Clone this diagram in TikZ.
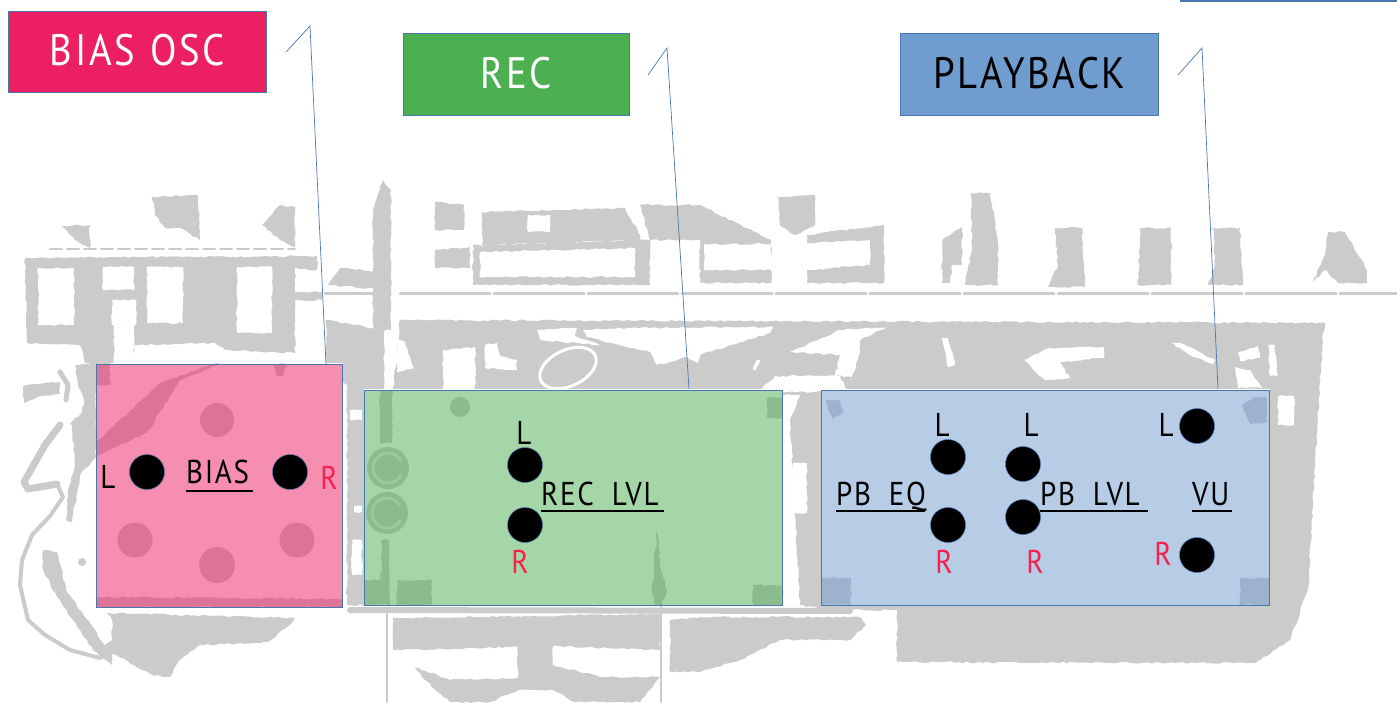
\documentclass[tikz,border=0pt]{standalone}
\usepackage{fontspec}
\setmainfont{PT Sans}
\newfontfamily\tfont[LetterSpace=6,FakeStretch=.88,WordSpace=1.2]{PT Sans}
\newfontfamily\cfont[LetterSpace=5,FakeStretch=.88,WordSpace=1.9]{PT Sans}
\newfontfamily\lfont[FakeStretch=.88]{PT Sans}
\usetikzlibrary{decorations.pathmorphing}
\definecolor{bg}{HTML}{CBCBCB}
\definecolor{edge}{HTML}{4A76B0}
\definecolor{cpink}{HTML}{EC1F63}
\definecolor{cgreen}{HTML}{4CAF50}
\definecolor{cblue}{HTML}{709DCF}
\definecolor{cred}{HTML}{F8204F}
\tikzset{
 gr/.style={fill=bg,draw=none,decorate,decoration={random steps,segment length=4,amplitude=.9}},
 wh/.style={fill=white,draw=none,decorate,decoration={random steps,segment length=4,amplitude=.9}},
 gl/.style={draw=bg,line cap=round,line join=round},
 title/.style={draw=edge,line width=.6pt,anchor=north west,inner sep=0pt,font=\tfont\fontsize{44}{44}\selectfont},
 panel/.style={draw=edge,line width=.7pt,anchor=north west,inner sep=0pt,fill opacity=.5},
 dot/.style={circle,fill=black,draw=edge,line width=.5pt,minimum size=35pt,inner sep=0pt},
 lab/.style={anchor=base,inner sep=0pt,font=\lfont\fontsize{33}{33}\selectfont},
 captxt/.style={anchor=base west,inner sep=0pt,font=\cfont\fontsize{33}{33}\selectfont},
 ul/.style={draw=black,line width=2.2pt},
 call/.style={draw=edge,line width=.7pt},
}
\begin{document}
\begin{tikzpicture}[x=1pt,y=-1pt]
\useasboundingbox (0,0) rectangle (1397,702);
% ---- faded photograph: upper row
\path[gr] (25,258)--(317,256)--(317,270)--(295,268)--(295,292)--(322,292)--(322,300)--(295,300)--(295,353)--(225,350)--(215,343)--(134,345)--(134,363)--(85,363)--(80,345)--(27,343)--cycle;
\path[wh] (38,268) rectangle (74,325);
\path[wh] (103,267) rectangle (134,290);
\path[wh] (112,300) rectangle (136,325);
\path[wh] (114,325) rectangle (134,365);
\path[wh] (147,267) rectangle (183,323);
\path[wh] (237,267) rectangle (272,333);
\path[gr] (152,197)--(198,195)--(200,240)--(180,228)--(165,228)--(155,215)--cycle;
\path[gr] (262,225)--(280,205)--(295,207)--(295,247)--(280,240)--cycle;
\path[gr] (62,226)--(90,225)--(90,248)--(75,240)--cycle;
\draw[gl,line width=2pt,dash pattern=on 12pt off 5pt] (50,249)--(295,249);
\path[gr] (373,210)--(383,180)--(391,190)--(391,330)--(373,330)--cycle;
\path[gr] (328,285)--(340,268)--(384,272)--(384,290)--cycle;
\path[gr] (435,202)--(464,205)--(464,230)--(435,230)--cycle;
\path[gr] (435,250)--(470,247)--(470,268)--(435,268)--cycle;
\path[gr] (482,212)--(625,208)--(640,235)--(640,240)--(482,245)--cycle;
\path[wh] (528,232)--(528,215)--(550,215)--(550,232)--cycle;
\path[gr] (473,245)--(650,240)--(650,285)--(473,285)--cycle;
\path[wh] (480,252)--(635,248)--(635,277)--(480,277)--cycle;
\path[gr] (640,205)--(700,205)--(771,240)--(771,283)--(700,283)--(700,240)--(650,240)--cycle;
\path[wh] (704,244) rectangle (771,270);
\path[gr] (778,197)--(815,195)--(815,225)--(795,235)--(780,225)--cycle;
\path[gr] (807,235)--(884,225)--(884,283)--(807,283)--(807,270)--(870,265)--(870,240)--(807,243)--cycle;
\path[gr] (942,240)--(962,227)--(962,265)--(952,265)--(950,283)--(942,283)--cycle;
\path[gr] (971,193)--(990,193)--(998,240)--(998,285)--(965,285)--(972,250)--cycle;
\path[gr] (1055,228)--(1082,228)--(1085,287)--(1048,287)--(1058,265)--cycle;
\path[gr] (1140,228)--(1171,228)--(1171,285)--(1138,285)--cycle;
\path[gr] (1213,228)--(1240,228)--(1243,285)--(1208,285)--(1215,265)--cycle;
\path[gr] (1313,282)--(1325,255)--(1328,232)--(1345,232)--(1367,270)--(1367,283)--(1338,283)--(1325,270)--cycle;
\draw[gl,line width=3pt,dash pattern=on 60pt off 3pt] (325,293)--(375,293);
\draw[gl,line width=3pt,dash pattern=on 90pt off 4pt] (400,293)--(1397,293);
% ---- faded photograph: middle mass
\path[gr] (400,320)--(1325,323)--(1322,345)--(1308,590)--(1290,640)--(1255,663)--(897,662)--(897,610)--(830,610)--(800,605)--(790,420)--(800,395)--(393,395)--cycle;
\path[gr] (326,320)--(384,330)--(384,605)--(347,605)--(347,385)--(326,375)--cycle;
\path[wh] (583,330)--(630,328)--(773,327)--(770,333)--(700,355)--(697,363)--(687,357)--(657,365)--(650,352)--(587,337)--cycle;
\path[wh] (443,350)--(475,347)--(475,392)--(443,392)--cycle;
\path[wh] (485,345)--(497,343)--(500,356)--(517,360)--(517,370)--(485,368)--cycle;
\path[wh] (397,340)--(405,342)--(414,368)--(397,372)--cycle;
\path[wh] (537,330)--(577,328)--(575,336)--(600,345)--(540,340)--cycle;
\draw[white,line width=3pt,rotate around={25:(568,368)}] (568,368) ellipse (30 and 18);
\path[wh] (790,352)--(840,330)--(887,327)--(860,340)--(860,352)--(852,377)--(835,375)--(840,355)--cycle;
\path[wh] (758,392)--(775,376)--(840,376)--(848,392)--cycle;
\path[wh] (1024,360)--(1050,348)--(1104,347)--(1104,358)--(1060,362)--(1070,378)--(1045,380)--cycle;
\path[wh] (1171,343)--(1180,343)--(1215,360)--(1213,364)--(1190,355)--cycle;
\path[wh] (1238,352)--(1258,346)--(1260,358)--(1240,361)--cycle;
\path[wh] (1235,367)--(1250,370)--(1262,388)--(1238,388)--cycle;
\path[wh] (1268,345)--(1275,345)--(1277,376)--(1270,376)--cycle;
\path[wh] (942,338)--(948,338)--(955,365)--(948,367)--cycle;
\path[wh] (757,360)--(760,360)--(756,370)--(753,370)--cycle;
\path[wh] (350,410)--(362,410)--(362,420)--(350,420)--cycle;
\path[wh] (354,506)--(362,506)--(362,512)--(354,512)--cycle;
\path[wh] (352,540)--(362,540)--(362,575)--(352,575)--cycle;
\path[wh] (1278,396)--(1294,396)--(1294,425)--(1278,425)--cycle;
\path[wh] (793,463)--(807,463)--(807,513)--(793,513)--cycle;
% white area behind the panels
\path[fill=white] (364,389) rectangle (783,605);
\path[fill=white] (821,389) rectangle (1270,605);
\path[fill=white] (96,363) rectangle (343,607);
% ---- shapes behind the panels
\path[gr] (96,363) rectangle (110,385);
\path[gr] (96,443)--(160,383)--(213,364)--(220,364)--(180,380)--(147,433)--(96,456)--cycle;
\path[gr] (273,364)--(287,364)--(283,376)--(277,376)--cycle;
\fill[bg] (217,420) circle (17);
\fill[bg] (135,540) circle (17.5);
\fill[bg] (297,540) circle (17.5);
\fill[bg] (217,565) circle (18);
\path[gr] (96,597)--(343,599)--(343,607)--(96,607)--cycle;
\path[gr] (380,390)--(392,390)--(392,443)--(380,443)--cycle;
\path[gr] (381,540)--(389,540)--(389,585)--(381,585)--cycle;
\fill[bg] (388,468) circle (21);
\fill[bg] (387,513) circle (21);
\draw[white,line width=3pt,opacity=.55] (388,468) ++(-28:15) arc (-28:-332:15);
\draw[white,line width=3pt,opacity=.55] (387,513) ++(-28:15) arc (-28:-332:15);
\path[gr] (365,580)--(390,580)--(390,605)--(365,605)--cycle;
\path[gr] (397,580)--(432,580)--(432,605)--(397,605)--cycle;
\fill[bg] (460,407) circle (10);
\path[gr] (767,398)--(783,398)--(783,418)--(767,418)--cycle;
\path[gr] (753,585)--(783,585)--(783,605)--(753,605)--cycle;
\path[gr] (657,528)--(661,570)--(667,590)--(662,605)--(655,605)--(652,590)--cycle;
\path[gr] (826,400)--(840,400)--(844,412)--(832,419)--cycle;
\path[gr] (1242,405)--(1255,397)--(1267,397)--(1267,422)--(1250,424)--cycle;
\path[gr] (821,578)--(851,578)--(851,605)--(821,605)--cycle;
\path[gr] (1240,578)--(1270,578)--(1270,605)--(1240,605)--cycle;
% ---- faded photograph: left figure and lower part
\path[gr] (23,386)--(40,384)--(60,382)--(60,394)--(40,396)--(24,403)--cycle;
\draw[gl,line width=5pt] (60,372)--(68,385)--(66,400);
\draw[gl,line width=7pt] (60,425)--(45,445)--(24,482)--(28,489)--(57,484);
\draw[gl,line width=4pt] (57,484)--(63,497)--(50,516)--(32,535)--(22,560)--(20,585)--(28,620)--(45,635)--(70,650)--(100,658);
\path[gr] (75,365)--(96,363)--(96,457)--(80,475)--(72,522)--(66,520)--(68,490)--(75,465)--(72,425)--(70,424)--(82,412)--(84,400)--(78,385)--cycle;
\path[gr] (43,550)--(57,552)--(66,590)--(112,655)--(112,665)--(93,650)--(57,597)--(43,570)--cycle;
\fill[bg] (82,562) circle (4);
\path[gr] (107,613)--(295,618)--(290,625)--(268,642)--(200,645)--(178,662)--(170,677)--(152,675)--(116,655)--(98,650)--(112,640)--(112,620)--cycle;
\path[gr] (393,618)--(660,614)--(660,650)--(553,646)--(553,665)--(600,677)--(660,677)--(640,702)--(575,702)--(553,690)--(518,690)--(490,702)--(450,702)--(425,680)--(415,667)--(450,680)--(518,678)--(518,647)--(393,650)--cycle;
\path[gr] (670,620)--(700,617)--(860,617)--(866,625)--(850,640)--(780,640)--(740,660)--(700,672)--(670,672)--cycle;
\draw[gl,line width=2pt] (387,610)--(387,702);
\draw[gl,line width=2pt] (661,605)--(661,702);
\draw[gl,line width=6pt] (350,610)--(850,611);
% ---- panels
\node[panel,fill=cpink,minimum width=246.3pt,minimum height=243.3pt] (pp) at (96,363.5) {};
\node[panel,fill=cgreen,minimum width=418.3pt,minimum height=215.3pt] (pg) at (364,389.5) {};
\node[panel,fill=cblue,minimum width=448.3pt,minimum height=215.3pt] (pb) at (821,389.5) {};
% ---- title boxes
\node[title,fill=cpink,text=white,minimum width=258.4pt,minimum height=81.4pt] (t1) at (8,11) {\raisebox{3.5pt}{BIAS OSC}};
\node[title,fill=cgreen,text=white,minimum width=226.4pt,minimum height=82.4pt] (t2) at (403,33) {\raisebox{3.5pt}{REC}};
\node[title,fill=cblue,text=black,minimum width=258.4pt,minimum height=82.4pt] (t3) at (900,33) {\raisebox{3.5pt}{PLAYBACK}};
% ---- callouts
\coordinate (a1) at (286,52); \coordinate (b1) at (310,26); \coordinate (c1) at (326,365);
\coordinate (a2) at (648,75); \coordinate (b2) at (667,48); \coordinate (c2) at (689,389);
\coordinate (a3) at (1178,75); \coordinate (b3) at (1202,48); \coordinate (c3) at (1218,389);
\draw[call] (a1)--(b1)--(c1);
\draw[call] (a2)--(b2)--(c2);
\draw[call] (a3)--(b3)--(c3);
\coordinate (tra) at (1180,1); \coordinate (trb) at (1397,1);
\draw[edge,line width=2pt] (tra)--(trb);
% ---- jacks
\node[dot] (d1) at (147,472) {};
\node[dot] (d2) at (290,472) {};
\node[dot] (d3) at (525,465) {};
\node[dot] (d4) at (525,525) {};
\node[dot] (d5) at (948,457) {};
\node[dot] (d6) at (948,525) {};
\node[dot] (d7) at (1023,464) {};
\node[dot] (d8) at (1023,517) {};
\node[dot] (d9) at (1197,426) {};
\node[dot] (d10) at (1197,555) {};
% ---- L / R
\node[lab] (l1) at (108,488) {L};
\node[lab,text=cred] (r1) at (329,489) {R};
\node[lab] (l2) at (524,444) {L};
\node[lab,text=cred] (r2) at (520,573) {R};
\node[lab] (l3) at (942,436) {L};
\node[lab,text=cred] (r3) at (944,573) {R};
\node[lab] (l4) at (1031,436) {L};
\node[lab,text=cred] (r4) at (1035,573) {R};
\node[lab] (l5) at (1166,436) {L};
\node[lab,text=cred] (r5) at (1163,565) {R};
% ---- captions
\node[captxt] (n1) at (186,483) {BIAS};
\node[captxt] (n2) at (541,505) {REC LVL};
\node[captxt] (n3) at (836,505) {PB EQ};
\node[captxt] (n4) at (1040,505) {PB LVL};
\node[captxt] (n5) at (1192,505) {VU};
\coordinate (u1a) at (186,491); \coordinate (u1b) at (253,491);
\coordinate (u2a) at (541,511); \coordinate (u2b) at (664,511);
\coordinate (u3a) at (836,511); \coordinate (u3b) at (925,511);
\coordinate (u4a) at (1040,511); \coordinate (u4b) at (1148,511);
\coordinate (u5a) at (1192,511); \coordinate (u5b) at (1232,511);
\draw[ul] (u1a)--(u1b);
\draw[ul] (u2a)--(u2b);
\draw[ul] (u3a)--(u3b);
\draw[ul] (u4a)--(u4b);
\draw[ul] (u5a)--(u5b);
\end{tikzpicture}
\end{document}
